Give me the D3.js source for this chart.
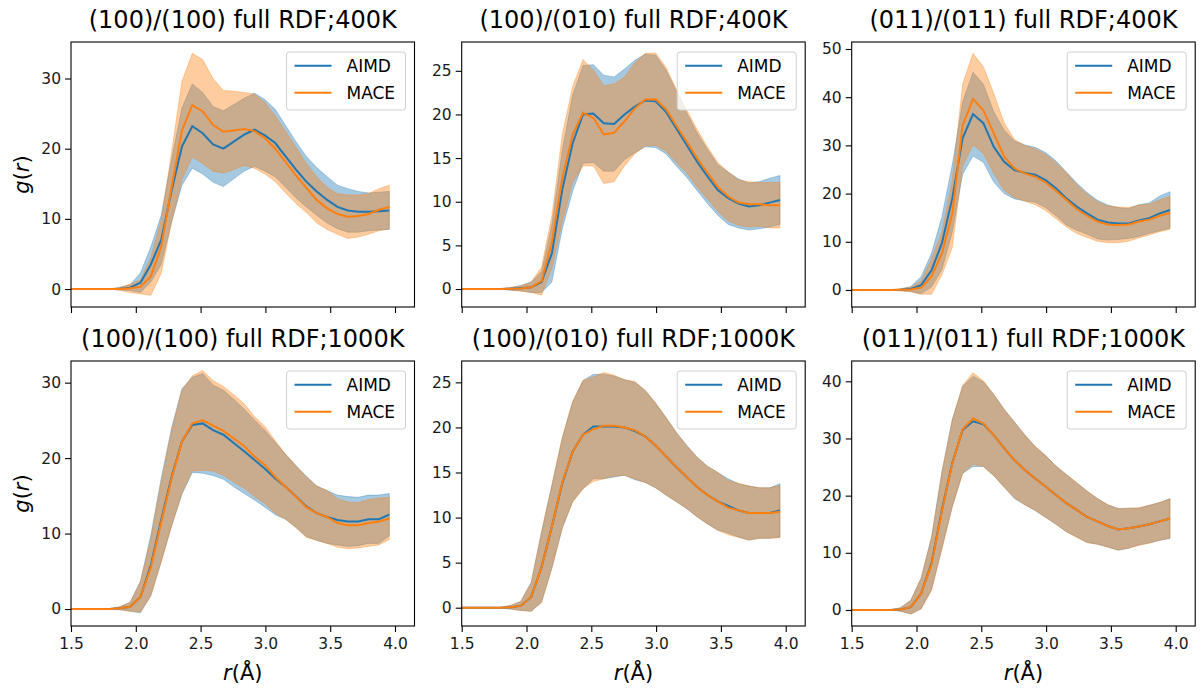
<!DOCTYPE html>
<html>
<head>
<meta charset="utf-8">
<script src="https://cdn.jsdelivr.net/npm/d3@7"></script>
<style>
  body { margin: 0; background: #fff; }
  svg { font-family: "DejaVu Sans", sans-serif; }
</style>
</head>
<body>
<div id="chart"></div>
<script>
// r grid (Å), same for every panel
var r = [1.476, 1.556, 1.636, 1.716, 1.796, 1.876, 1.956, 2.036, 2.116, 2.196, 2.276, 2.356,
         2.436, 2.516, 2.596, 2.676, 2.756, 2.836, 2.916, 2.996, 3.076, 3.156, 3.236, 3.316,
         3.396, 3.476, 3.556, 3.636, 3.716, 3.796, 3.876, 3.956];
var rTicks = [1.5, 2.0, 2.5, 3.0, 3.5, 4.0];
var seriesNames = ["AIMD", "MACE"];
var titles = ["(100)/(100) full RDF;400K", "(100)/(010) full RDF;400K", "(011)/(011) full RDF;400K",
              "(100)/(100) full RDF;1000K", "(100)/(010) full RDF;1000K", "(011)/(011) full RDF;1000K"];

// (100)/(100) 400K
var p1AimdMean = [0,0,0,0,0,0.05, 0.2,0.9,3.5,7.0,14.0,20.3, 23.2,22.2,20.6,20.0,21.0,22.0,22.7,21.9,20.8,18.9,17.0,15.3,13.9,12.7,11.7,11.2,11.0,11.0,11.1,11.2];
var p1AimdStd  = [0,0,0,0,0,0.2, 0.4,1.4,2.5,3.5,4.5,5.5, 6.0,5.8,5.4,5.4,5.3,5.2,5.2,5.1,4.8,4.4,4.0,3.6,3.4,3.3,3.1,3.1,2.9,2.7,2.7,2.7];
var p1MaceMean = [0,0,0,0,0,0.02, 0.1,0.3,1.8,6.0,14.5,22.6, 26.2,25.3,23.4,22.4,22.6,22.8,22.5,21.5,20.0,18.1,16.2,14.4,12.7,11.5,10.7,10.3,10.4,10.7,11.3,11.7];
var p1MaceStd  = [0,0,0,0,0,0.2, 0.6,1.0,2.7,3.8,5.0,7.0, 7.4,7.4,6.6,5.9,5.6,5.2,5.3,5.1,4.7,4.4,4.0,3.5,3.3,3.0,2.9,3.1,3.0,2.9,3.0,3.1];

// (100)/(010) 400K
var p2AimdMean = [0,0,0,0,0,0.02, 0.1,0.2,0.8,4.1,11.4,16.7, 20.0,20.1,19.0,18.9,20.0,20.9,21.6,21.5,20.3,18.4,16.5,14.6,12.9,11.35,10.4,9.8,9.45,9.6,9.9,10.2];
var p2AimdStd  = [0,0,0,0,0,0.15, 0.3,0.6,1.2,3.3,4.5,5.5, 5.6,5.6,5.5,5.4,5.2,5.3,5.3,5.3,4.8,4.3,3.7,3.3,3.1,2.9,3.0,2.8,2.7,2.7,2.8,2.8];
var p2MaceMean = [0,0,0,0,0,0.02, 0.05,0.2,0.9,5.4,12.7,17.7, 20.2,19.6,17.7,17.9,19.2,20.7,21.7,21.75,20.6,18.7,16.9,15.0,13.3,11.7,10.6,9.9,9.7,9.7,9.6,9.6];
var p2MaceStd  = [0,0,0,0,0,0.15, 0.3,0.6,1.6,3.0,5.0,5.5, 6.1,5.5,5.6,5.6,5.1,5.2,5.3,5.3,4.8,4.2,3.6,3.3,3.0,2.8,2.8,2.6,2.6,2.5,2.6,2.6];

// (011)/(011) 400K
var p3AimdMean = [0,0,0,0,0,0.05, 0.2,1.0,4.1,9.7,19.0,31.5, 36.5,34.6,29.7,26.6,24.9,24.3,23.9,22.8,21.1,19.0,17.3,15.9,14.6,14.0,13.8,13.8,14.4,14.9,15.9,16.6];
var p3AimdStd  = [0,0,0,0,0,0.2, 0.5,1.8,3.5,5.5,7.0,7.5, 8.7,8.1,7.3,6.6,6.0,5.8,5.7,5.7,5.7,5.5,4.9,4.35,4.0,3.65,3.3,3.1,3.3,3.15,3.6,3.8];
var p3MaceMean = [0,0,0,0,0,0.03, 0.1,0.5,2.8,7.6,15.8,34.2, 39.6,37.3,32.5,27.7,25.2,24.2,23.5,22.3,20.6,18.7,16.8,15.4,14.2,13.6,13.5,13.6,14.2,14.6,15.4,16.0];
var p3MaceStd  = [0,0,0,0,0,0.2, 0.5,1.4,3.7,4.5,7.0,8.5, 9.5,9.0,8.3,7.0,6.0,5.8,5.8,5.8,5.8,5.6,5.1,4.5,4.1,3.8,3.7,3.5,3.4,3.2,3.3,3.4];

// (100)/(100) 1000K
var p4AimdMean = [0,0,0,0,0,0.1, 0.3,1.6,5.8,11.8,17.5,22.2, 24.4,24.6,23.7,23.1,22.0,20.9,19.75,18.6,17.3,16.2,14.9,13.6,12.7,12.2,11.8,11.6,11.6,11.9,11.9,12.5];
var p4AimdStd  = [0,0,0,0,0,0.2, 0.6,2.1,4.0,5.5,6.5,7.0, 6.3,6.6,6.0,5.9,5.8,5.6,5.3,5.1,4.8,4.3,4.1,4.0,3.6,3.5,3.3,3.3,3.2,3.2,3.2,2.8];
var p4MaceMean = [0,0,0,0,0,0.1, 0.3,1.6,5.5,11.5,17.3,22.2, 24.6,25.0,24.3,23.6,22.6,21.6,20.2,19.1,17.5,16.2,14.9,13.5,12.7,12.2,11.4,11.1,11.1,11.4,11.6,12.0];
var p4MaceStd  = [0,0,0,0,0,0.2, 0.6,2.0,3.8,5.3,6.3,6.8, 6.3,6.6,6.0,5.9,5.8,5.6,5.3,5.1,4.8,4.3,4.1,4.0,3.6,3.5,3.2,3.1,3.0,3.1,3.1,2.8];

// (100)/(010) 1000K
var p5AimdMean = [0,0,0,0,0,0.05, 0.2,1.2,4.5,9.0,13.8,17.3, 19.2,20.1,20.1,20.1,20.0,19.6,19.0,18.0,16.8,15.6,14.5,13.4,12.5,11.8,11.3,10.8,10.5,10.5,10.5,10.8];
var p5AimdStd  = [0,0,0,0,0,0.2, 0.5,1.6,3.9,4.6,5.0,5.5, 6.0,5.8,5.8,5.6,5.3,5.4,5.1,4.7,4.3,3.85,3.5,3.3,3.2,3.2,3.0,2.95,3.0,2.8,2.8,2.95];
var p5MaceMean = [0,0,0,0,0,0.05, 0.2,1.2,4.5,9.0,13.9,17.3, 19.2,19.8,20.2,20.2,20.0,19.7,19.0,18.0,16.8,15.6,14.5,13.4,12.5,11.8,11.1,10.8,10.5,10.5,10.5,10.65];
var p5MaceStd  = [0,0,0,0,0,0.2, 0.5,1.6,3.9,4.6,5.0,5.6, 6.0,5.8,5.9,5.6,5.3,5.4,5.1,4.7,4.3,3.85,3.5,3.3,3.2,3.2,3.0,3.0,3.0,2.8,2.8,2.9];

// (011)/(011) 1000K
var p6AimdMean = [0,0,0,0,0,0.1, 0.5,2.9,8.2,17.5,25.7,31.5, 33.0,32.5,30.6,28.3,26.2,24.5,23.0,21.6,20.1,18.7,17.5,16.3,15.5,14.7,14.1,14.3,14.6,15.0,15.5,16.0];
var p6AimdStd  = [0,0,0,0,0,0.3, 1.2,2.7,4.6,6.7,7.6,7.6, 7.9,7.4,7.1,6.8,6.7,6.1,5.6,5.4,5.1,5.0,4.7,4.5,4.0,3.7,3.65,3.5,3.2,3.3,3.3,3.5];
var p6MaceMean = [0,0,0,0,0,0.1, 0.5,2.9,8.0,17.3,25.6,31.6, 33.5,32.6,30.6,28.3,26.2,24.5,23.0,21.6,20.1,18.7,17.5,16.3,15.5,14.7,14.1,14.3,14.6,15.0,15.5,16.0];
var p6MaceStd  = [0,0,0,0,0,0.3, 1.2,2.7,4.6,6.7,7.6,7.7, 8.0,7.5,7.1,6.8,6.6,6.1,5.6,5.4,5.1,5.0,4.8,4.5,4.0,3.7,3.6,3.5,3.3,3.3,3.3,3.4];

// y ticks and limits per panel
var yTicks = [[0, 10, 20, 30], [0, 5, 10, 15, 20, 25], [0, 10, 20, 30, 40, 50],
              [0, 10, 20, 30], [0, 5, 10, 15, 20, 25], [0, 10, 20, 30, 40]];
var yLims = [[-2.56, 35.2], [-2.06, 28.3], [-3.53, 51.45],
             [-2.25, 32.87], [-2.03, 27.37], [-2.8, 43.55]];

var panels = [
  [p1AimdMean, p1AimdStd, p1MaceMean, p1MaceStd],
  [p2AimdMean, p2AimdStd, p2MaceMean, p2MaceStd],
  [p3AimdMean, p3AimdStd, p3MaceMean, p3MaceStd],
  [p4AimdMean, p4AimdStd, p4MaceMean, p4MaceStd],
  [p5AimdMean, p5AimdStd, p5MaceMean, p5MaceStd],
  [p6AimdMean, p6AimdStd, p6MaceMean, p6MaceStd]
];

var colors = ["#1f77b4", "#ff7f0e"];

var width = 1203, height = 691;
var colLeft = [71, 461.7, 851.7], rowTop = [42, 361];
var pw = 343.5, ph = 265;

var svg = d3.select("#chart").append("svg")
    .attr("width", width)
    .attr("height", height);

var x = d3.scaleLinear().domain([1.5, 1.5 + pw / 129.6]).range([0, pw]);

panels.forEach(function(p, i) {
  var col = i % 3, row = Math.floor(i / 3);
  var g = svg.append("g")
      .attr("transform", "translate(" + colLeft[col] + "," + rowTop[row] + ")");

  var y = d3.scaleLinear().domain(yLims[i]).range([ph, 0]);

  // clip to axes box
  g.append("clipPath").attr("id", "clip" + i)
    .append("rect").attr("width", pw).attr("height", ph);

  var series = [0, 1].map(function(s) {
    return r.map(function(rv, k) {
      return {r: rv, m: p[s * 2][k], s: p[s * 2 + 1][k]};
    });
  });

  var area = d3.area()
      .x(function(d) { return x(d.r); })
      .y0(function(d) { return y(d.m - d.s); })
      .y1(function(d) { return y(d.m + d.s); });

  var line = d3.line()
      .x(function(d) { return x(d.r); })
      .y(function(d) { return y(d.m); });

  var plot = g.append("g").attr("clip-path", "url(#clip" + i + ")");

  // bands first, lines on top (matplotlib zorder)
  series.forEach(function(d, s) {
    plot.append("path")
      .datum(d)
      .attr("d", area)
      .attr("fill", colors[s])
      .attr("fill-opacity", 0.4)
      .attr("stroke", colors[s])
      .attr("stroke-opacity", 0.4)
      .attr("stroke-width", 0.8);
  });
  series.forEach(function(d, s) {
    plot.append("path")
      .datum(d)
      .attr("d", line)
      .attr("fill", "none")
      .attr("stroke", colors[s])
      .attr("stroke-width", 2);
  });

  // axes
  var xAxis = d3.axisBottom(x)
      .tickValues(rTicks)
      .tickSize(6)
      .tickSizeOuter(0)
      .tickPadding(5.5)
      .tickFormat(row == 1 ? d3.format(".1f") : function() { return ""; });

  var gx = g.append("g")
      .attr("transform", "translate(0," + ph + ")")
      .call(xAxis);

  var gy = g.append("g")
      .call(d3.axisLeft(y).tickValues(yTicks[i]).tickSize(6).tickSizeOuter(0).tickPadding(4));

  [gx, gy].forEach(function(a) {
    a.select(".domain").remove();
    a.selectAll("line").attr("stroke", "#000").attr("stroke-width", 1.1);
    a.selectAll("text")
      .attr("fill", "#1a1a1a")
      .style("font-size", "15.5px")
      .style("font-family", "DejaVu Sans");
  });

  // frame
  g.append("rect")
    .attr("width", pw)
    .attr("height", ph)
    .attr("fill", "none")
    .attr("stroke", "#000")
    .attr("stroke-width", 1.1);

  // title
  g.append("text")
    .attr("x", pw / 2)
    .attr("y", -14.5)
    .attr("text-anchor", "middle")
    .attr("fill", "#000")
    .style("font-size", "24px")
    .text(titles[i]);

  // legend
  var lg = g.append("g").attr("transform", "translate(" + (pw - 9 - 119) + ",10)");
  lg.append("rect")
    .attr("width", 119)
    .attr("height", 58)
    .attr("rx", 3)
    .attr("fill", "#fff")
    .attr("fill-opacity", 0.8)
    .attr("stroke", "#d0d0d0")
    .attr("stroke-width", 1);
  seriesNames.forEach(function(name, s) {
    var yy = 13.7 + s * 27;
    lg.append("line")
      .attr("x1", 8).attr("x2", 45)
      .attr("y1", yy).attr("y2", yy)
      .attr("stroke", colors[s])
      .attr("stroke-width", 2);
    lg.append("text")
      .attr("x", 60)
      .attr("y", yy + 6.2)
      .attr("fill", "#000")
      .style("font-size", "17px")
      .text(name);
  });

  // y label on first column
  if (col == 0) {
    var yl = g.append("text")
      .attr("transform", "translate(" + (-42.4) + "," + (ph / 2) + ") rotate(-90)")
      .attr("text-anchor", "middle")
      .attr("fill", "#000")
      .style("font-size", "21px");
    yl.append("tspan").style("font-style", "italic").text("g");
    yl.append("tspan").text("(");
    yl.append("tspan").style("font-style", "italic").text("r");
    yl.append("tspan").text(")");
  }

  // x label on bottom row
  if (row == 1) {
    var xl = g.append("text")
      .attr("x", pw / 2)
      .attr("y", ph + 54)
      .attr("text-anchor", "middle")
      .attr("fill", "#000")
      .style("font-size", "21px");
    xl.append("tspan").style("font-style", "italic").text("r");
    xl.append("tspan").text("(Å)");
  }
});
</script>
</body>
</html>
